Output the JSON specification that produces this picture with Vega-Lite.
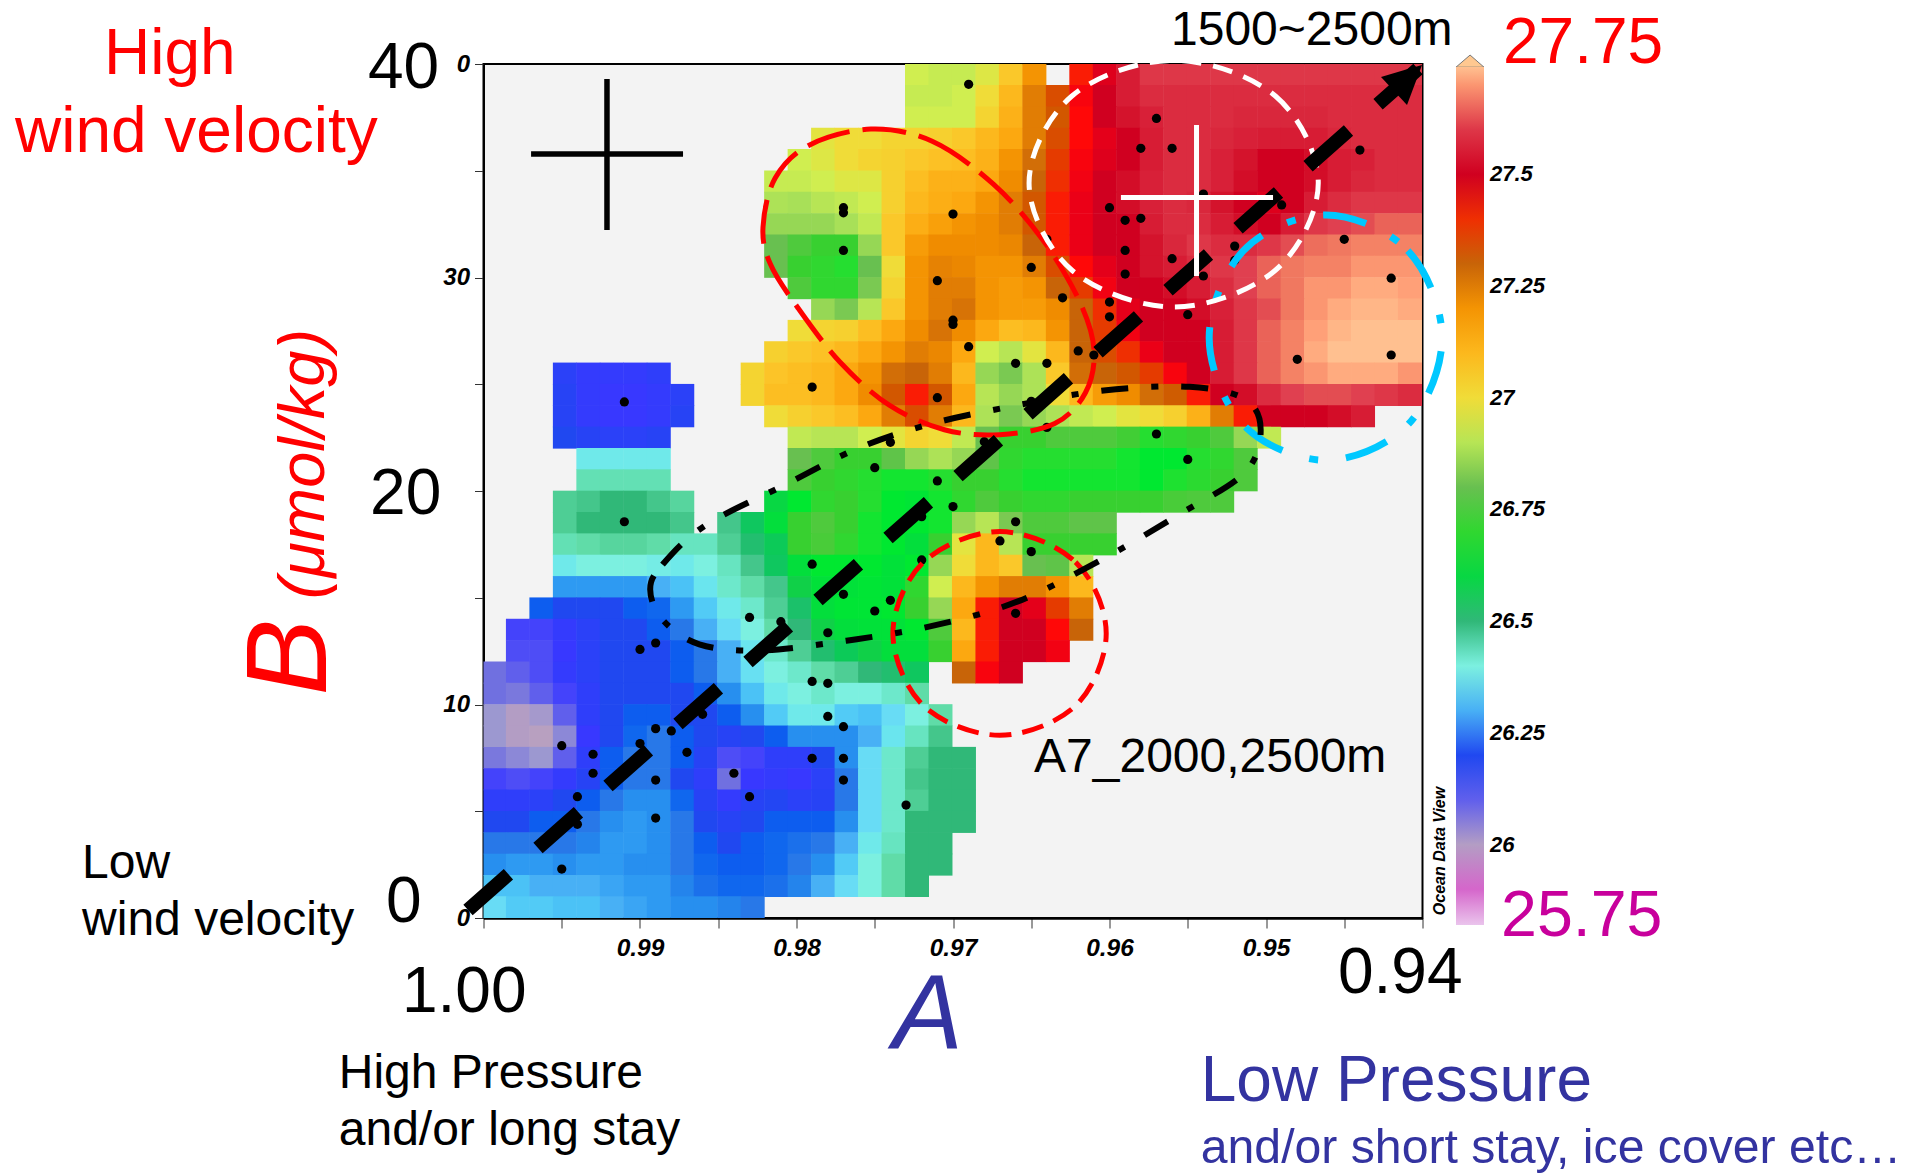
{"$schema":"https://vega.github.io/schema/vega-lite/v6.json","autosize":"none","width":939,"height":854,"padding":{"left":483.5,"top":64,"right":500.5,"bottom":255},"background":"white","view":{"fill":"#f3f3f3","stroke":"black","strokeWidth":2},
"encoding":{"x":{"field":"a","type":"quantitative","title":null,"scale":{"domain":[1,0.94],"nice":false,"zero":false},"axis":{"values":[1,0.995,0.99,0.985,0.98,0.975,0.97,0.965,0.96,0.955,0.95,0.945,0.94],"labelExpr":"(abs(datum.value*100-round(datum.value*100))<0.01 && datum.value<0.999 && datum.value>0.941)?format(datum.value,'.2f'):''","labelFont":"Liberation Sans","labelFontWeight":"bold","labelFontStyle":"italic","labelFontSize":24.5,"labelColor":"black","labelPadding":8,"labelOverlap":false,"labelFlush":false,"tickColor":"#333","tickSize":10,"domainColor":"black","domainWidth":2.5,"grid":false}},
"y":{"field":"b","type":"quantitative","title":null,"scale":{"domain":[0,40],"nice":false,"zero":false},"axis":{"values":[0,5,10,15,20,25,30,35,40],"labelExpr":"datum.value==40?'0':(datum.value==10||datum.value==30||datum.value==0)?''+datum.value:''","labelFont":"Liberation Sans","labelFontWeight":"bold","labelFontStyle":"italic","labelFontSize":24,"labelColor":"black","labelPadding":5,"labelOverlap":false,"labelFlush":false,"tickColor":"#333","tickSize":9,"domainColor":"black","domainWidth":2,"grid":false}}},
"layer":[
{"data":{"values":[
{"a":0.9723,"b":39.5,"v":26.95},{"a":0.9708,"b":39.5,"v":26.93},{"a":0.9693,"b":39.5,"v":26.93},{"a":0.9678,"b":39.5,"v":26.97},{"a":0.9663,"b":39.5,"v":27.05},{"a":0.9648,"b":39.5,"v":27.2},{"a":0.9618,"b":39.5,"v":27.42},{"a":0.9603,"b":39.5,"v":27.48},{"a":0.9588,"b":39.5,"v":27.55},{"a":0.9573,"b":39.5,"v":27.6},{"a":0.9558,"b":39.5,"v":27.6},{"a":0.9543,"b":39.5,"v":27.6},{"a":0.9528,"b":39.5,"v":27.6},{"a":0.9513,"b":39.5,"v":27.6},{"a":0.9498,"b":39.5,"v":27.6},{"a":0.9483,"b":39.5,"v":27.6},{"a":0.9468,"b":39.5,"v":27.6},{"a":0.9453,"b":39.5,"v":27.6},{"a":0.9438,"b":39.5,"v":27.6},{"a":0.9423,"b":39.5,"v":27.6},{"a":0.9408,"b":39.5,"v":27.6},
{"a":0.9723,"b":38.5,"v":26.93},{"a":0.9708,"b":38.5,"v":26.93},{"a":0.9693,"b":38.5,"v":26.95},{"a":0.9678,"b":38.5,"v":27.0},{"a":0.9663,"b":38.5,"v":27.1},{"a":0.9648,"b":38.5,"v":27.25},{"a":0.9633,"b":38.5,"v":27.35},{"a":0.9618,"b":38.5,"v":27.44},{"a":0.9603,"b":38.5,"v":27.5},{"a":0.9588,"b":38.5,"v":27.55},{"a":0.9573,"b":38.5,"v":27.58},{"a":0.9558,"b":38.5,"v":27.58},{"a":0.9543,"b":38.5,"v":27.58},{"a":0.9528,"b":38.5,"v":27.58},{"a":0.9513,"b":38.5,"v":27.58},{"a":0.9498,"b":38.5,"v":27.58},{"a":0.9483,"b":38.5,"v":27.58},{"a":0.9468,"b":38.5,"v":27.58},{"a":0.9453,"b":38.5,"v":27.58},{"a":0.9438,"b":38.5,"v":27.58},{"a":0.9423,"b":38.5,"v":27.58},{"a":0.9408,"b":38.5,"v":27.58},
{"a":0.9723,"b":37.5,"v":26.95},{"a":0.9708,"b":37.5,"v":26.95},{"a":0.9693,"b":37.5,"v":26.95},{"a":0.9678,"b":37.5,"v":27.02},{"a":0.9663,"b":37.5,"v":27.12},{"a":0.9648,"b":37.5,"v":27.25},{"a":0.9633,"b":37.5,"v":27.33},{"a":0.9618,"b":37.5,"v":27.43},{"a":0.9603,"b":37.5,"v":27.5},{"a":0.9588,"b":37.5,"v":27.53},{"a":0.9573,"b":37.5,"v":27.56},{"a":0.9558,"b":37.5,"v":27.58},{"a":0.9543,"b":37.5,"v":27.58},{"a":0.9528,"b":37.5,"v":27.58},{"a":0.9513,"b":37.5,"v":27.57},{"a":0.9498,"b":37.5,"v":27.57},{"a":0.9483,"b":37.5,"v":27.57},{"a":0.9468,"b":37.5,"v":27.57},{"a":0.9453,"b":37.5,"v":27.58},{"a":0.9438,"b":37.5,"v":27.58},{"a":0.9423,"b":37.5,"v":27.58},{"a":0.9408,"b":37.5,"v":27.58},
{"a":0.9783,"b":36.5,"v":26.98},{"a":0.9768,"b":36.5,"v":27.0},{"a":0.9753,"b":36.5,"v":27.0},{"a":0.9738,"b":36.5,"v":27.02},{"a":0.9723,"b":36.5,"v":27.02},{"a":0.9708,"b":36.5,"v":27.03},{"a":0.9693,"b":36.5,"v":27.05},{"a":0.9678,"b":36.5,"v":27.1},{"a":0.9663,"b":36.5,"v":27.15},{"a":0.9648,"b":36.5,"v":27.25},{"a":0.9633,"b":36.5,"v":27.35},{"a":0.9618,"b":36.5,"v":27.43},{"a":0.9603,"b":36.5,"v":27.47},{"a":0.9588,"b":36.5,"v":27.5},{"a":0.9573,"b":36.5,"v":27.55},{"a":0.9558,"b":36.5,"v":27.58},{"a":0.9543,"b":36.5,"v":27.58},{"a":0.9528,"b":36.5,"v":27.57},{"a":0.9513,"b":36.5,"v":27.56},{"a":0.9498,"b":36.5,"v":27.55},{"a":0.9483,"b":36.5,"v":27.55},{"a":0.9468,"b":36.5,"v":27.55},{"a":0.9453,"b":36.5,"v":27.57},{"a":0.9438,"b":36.5,"v":27.58},{"a":0.9423,"b":36.5,"v":27.58},{"a":0.9408,"b":36.5,"v":27.58},
{"a":0.9798,"b":35.5,"v":26.95},{"a":0.9783,"b":35.5,"v":26.97},{"a":0.9768,"b":35.5,"v":27.0},{"a":0.9753,"b":35.5,"v":27.02},{"a":0.9738,"b":35.5,"v":27.03},{"a":0.9723,"b":35.5,"v":27.05},{"a":0.9708,"b":35.5,"v":27.07},{"a":0.9693,"b":35.5,"v":27.08},{"a":0.9678,"b":35.5,"v":27.12},{"a":0.9663,"b":35.5,"v":27.2},{"a":0.9648,"b":35.5,"v":27.28},{"a":0.9633,"b":35.5,"v":27.38},{"a":0.9618,"b":35.5,"v":27.44},{"a":0.9603,"b":35.5,"v":27.48},{"a":0.9588,"b":35.5,"v":27.5},{"a":0.9573,"b":35.5,"v":27.55},{"a":0.9558,"b":35.5,"v":27.58},{"a":0.9543,"b":35.5,"v":27.58},{"a":0.9528,"b":35.5,"v":27.56},{"a":0.9513,"b":35.5,"v":27.53},{"a":0.9498,"b":35.5,"v":27.5},{"a":0.9483,"b":35.5,"v":27.5},{"a":0.9468,"b":35.5,"v":27.52},{"a":0.9453,"b":35.5,"v":27.55},{"a":0.9438,"b":35.5,"v":27.56},{"a":0.9423,"b":35.5,"v":27.58},{"a":0.9408,"b":35.5,"v":27.58},
{"a":0.9813,"b":34.5,"v":26.93},{"a":0.9798,"b":34.5,"v":26.93},{"a":0.9783,"b":34.5,"v":26.95},{"a":0.9768,"b":34.5,"v":26.97},{"a":0.9753,"b":34.5,"v":26.97},{"a":0.9738,"b":34.5,"v":27.03},{"a":0.9723,"b":34.5,"v":27.08},{"a":0.9708,"b":34.5,"v":27.12},{"a":0.9693,"b":34.5,"v":27.12},{"a":0.9678,"b":34.5,"v":27.15},{"a":0.9663,"b":34.5,"v":27.22},{"a":0.9648,"b":34.5,"v":27.3},{"a":0.9633,"b":34.5,"v":27.4},{"a":0.9618,"b":34.5,"v":27.45},{"a":0.9603,"b":34.5,"v":27.5},{"a":0.9588,"b":34.5,"v":27.52},{"a":0.9573,"b":34.5,"v":27.56},{"a":0.9558,"b":34.5,"v":27.58},{"a":0.9543,"b":34.5,"v":27.58},{"a":0.9528,"b":34.5,"v":27.56},{"a":0.9513,"b":34.5,"v":27.52},{"a":0.9498,"b":34.5,"v":27.5},{"a":0.9483,"b":34.5,"v":27.5},{"a":0.9468,"b":34.5,"v":27.52},{"a":0.9453,"b":34.5,"v":27.55},{"a":0.9438,"b":34.5,"v":27.57},{"a":0.9423,"b":34.5,"v":27.58},{"a":0.9408,"b":34.5,"v":27.58},
{"a":0.9813,"b":33.5,"v":26.88},{"a":0.9798,"b":33.5,"v":26.87},{"a":0.9783,"b":33.5,"v":26.9},{"a":0.9768,"b":33.5,"v":26.92},{"a":0.9753,"b":33.5,"v":26.95},{"a":0.9738,"b":33.5,"v":27.03},{"a":0.9723,"b":33.5,"v":27.1},{"a":0.9708,"b":33.5,"v":27.13},{"a":0.9693,"b":33.5,"v":27.15},{"a":0.9678,"b":33.5,"v":27.2},{"a":0.9663,"b":33.5,"v":27.25},{"a":0.9648,"b":33.5,"v":27.33},{"a":0.9633,"b":33.5,"v":27.42},{"a":0.9618,"b":33.5,"v":27.46},{"a":0.9603,"b":33.5,"v":27.5},{"a":0.9588,"b":33.5,"v":27.52},{"a":0.9573,"b":33.5,"v":27.56},{"a":0.9558,"b":33.5,"v":27.58},{"a":0.9543,"b":33.5,"v":27.57},{"a":0.9528,"b":33.5,"v":27.53},{"a":0.9513,"b":33.5,"v":27.5},{"a":0.9498,"b":33.5,"v":27.48},{"a":0.9483,"b":33.5,"v":27.5},{"a":0.9468,"b":33.5,"v":27.55},{"a":0.9453,"b":33.5,"v":27.58},{"a":0.9438,"b":33.5,"v":27.6},{"a":0.9423,"b":33.5,"v":27.6},{"a":0.9408,"b":33.5,"v":27.6},
{"a":0.9813,"b":32.5,"v":26.85},{"a":0.9798,"b":32.5,"v":26.85},{"a":0.9783,"b":32.5,"v":26.85},{"a":0.9768,"b":32.5,"v":26.87},{"a":0.9753,"b":32.5,"v":26.92},{"a":0.9738,"b":32.5,"v":27.05},{"a":0.9723,"b":32.5,"v":27.13},{"a":0.9708,"b":32.5,"v":27.17},{"a":0.9693,"b":32.5,"v":27.2},{"a":0.9678,"b":32.5,"v":27.22},{"a":0.9663,"b":32.5,"v":27.25},{"a":0.9648,"b":32.5,"v":27.33},{"a":0.9633,"b":32.5,"v":27.42},{"a":0.9618,"b":32.5,"v":27.46},{"a":0.9603,"b":32.5,"v":27.5},{"a":0.9588,"b":32.5,"v":27.5},{"a":0.9573,"b":32.5,"v":27.55},{"a":0.9558,"b":32.5,"v":27.58},{"a":0.9543,"b":32.5,"v":27.58},{"a":0.9528,"b":32.5,"v":27.55},{"a":0.9513,"b":32.5,"v":27.52},{"a":0.9498,"b":32.5,"v":27.5},{"a":0.9483,"b":32.5,"v":27.55},{"a":0.9468,"b":32.5,"v":27.6},{"a":0.9453,"b":32.5,"v":27.62},{"a":0.9438,"b":32.5,"v":27.63},{"a":0.9423,"b":32.5,"v":27.65},{"a":0.9408,"b":32.5,"v":27.65},
{"a":0.9813,"b":31.5,"v":26.8},{"a":0.9798,"b":31.5,"v":26.75},{"a":0.9783,"b":31.5,"v":26.72},{"a":0.9768,"b":31.5,"v":26.72},{"a":0.9753,"b":31.5,"v":26.85},{"a":0.9738,"b":31.5,"v":27.05},{"a":0.9723,"b":31.5,"v":27.18},{"a":0.9708,"b":31.5,"v":27.22},{"a":0.9693,"b":31.5,"v":27.22},{"a":0.9678,"b":31.5,"v":27.22},{"a":0.9663,"b":31.5,"v":27.23},{"a":0.9648,"b":31.5,"v":27.3},{"a":0.9633,"b":31.5,"v":27.42},{"a":0.9618,"b":31.5,"v":27.46},{"a":0.9603,"b":31.5,"v":27.5},{"a":0.9588,"b":31.5,"v":27.5},{"a":0.9573,"b":31.5,"v":27.53},{"a":0.9558,"b":31.5,"v":27.57},{"a":0.9543,"b":31.5,"v":27.6},{"a":0.9528,"b":31.5,"v":27.58},{"a":0.9513,"b":31.5,"v":27.58},{"a":0.9498,"b":31.5,"v":27.6},{"a":0.9483,"b":31.5,"v":27.63},{"a":0.9468,"b":31.5,"v":27.66},{"a":0.9453,"b":31.5,"v":27.67},{"a":0.9438,"b":31.5,"v":27.68},{"a":0.9423,"b":31.5,"v":27.68},{"a":0.9408,"b":31.5,"v":27.68},
{"a":0.9813,"b":30.5,"v":26.8},{"a":0.9798,"b":30.5,"v":26.72},{"a":0.9783,"b":30.5,"v":26.7},{"a":0.9768,"b":30.5,"v":26.68},{"a":0.9753,"b":30.5,"v":26.8},{"a":0.9738,"b":30.5,"v":27.0},{"a":0.9723,"b":30.5,"v":27.2},{"a":0.9708,"b":30.5,"v":27.24},{"a":0.9693,"b":30.5,"v":27.23},{"a":0.9678,"b":30.5,"v":27.2},{"a":0.9663,"b":30.5,"v":27.2},{"a":0.9648,"b":30.5,"v":27.25},{"a":0.9633,"b":30.5,"v":27.35},{"a":0.9618,"b":30.5,"v":27.43},{"a":0.9603,"b":30.5,"v":27.47},{"a":0.9588,"b":30.5,"v":27.5},{"a":0.9573,"b":30.5,"v":27.53},{"a":0.9558,"b":30.5,"v":27.55},{"a":0.9543,"b":30.5,"v":27.58},{"a":0.9528,"b":30.5,"v":27.6},{"a":0.9513,"b":30.5,"v":27.62},{"a":0.9498,"b":30.5,"v":27.65},{"a":0.9483,"b":30.5,"v":27.67},{"a":0.9468,"b":30.5,"v":27.68},{"a":0.9453,"b":30.5,"v":27.68},{"a":0.9438,"b":30.5,"v":27.7},{"a":0.9423,"b":30.5,"v":27.7},{"a":0.9408,"b":30.5,"v":27.7},
{"a":0.9798,"b":29.5,"v":26.75},{"a":0.9783,"b":29.5,"v":26.7},{"a":0.9768,"b":29.5,"v":26.7},{"a":0.9753,"b":29.5,"v":26.82},{"a":0.9738,"b":29.5,"v":27.02},{"a":0.9723,"b":29.5,"v":27.2},{"a":0.9708,"b":29.5,"v":27.25},{"a":0.9693,"b":29.5,"v":27.25},{"a":0.9678,"b":29.5,"v":27.2},{"a":0.9663,"b":29.5,"v":27.18},{"a":0.9648,"b":29.5,"v":27.2},{"a":0.9633,"b":29.5,"v":27.3},{"a":0.9618,"b":29.5,"v":27.38},{"a":0.9603,"b":29.5,"v":27.45},{"a":0.9588,"b":29.5,"v":27.5},{"a":0.9573,"b":29.5,"v":27.5},{"a":0.9558,"b":29.5,"v":27.52},{"a":0.9543,"b":29.5,"v":27.55},{"a":0.9528,"b":29.5,"v":27.58},{"a":0.9513,"b":29.5,"v":27.62},{"a":0.9498,"b":29.5,"v":27.65},{"a":0.9483,"b":29.5,"v":27.67},{"a":0.9468,"b":29.5,"v":27.7},{"a":0.9453,"b":29.5,"v":27.7},{"a":0.9438,"b":29.5,"v":27.72},{"a":0.9423,"b":29.5,"v":27.72},{"a":0.9408,"b":29.5,"v":27.71},
{"a":0.9783,"b":28.5,"v":26.85},{"a":0.9768,"b":28.5,"v":26.82},{"a":0.9753,"b":28.5,"v":26.9},{"a":0.9738,"b":28.5,"v":27.05},{"a":0.9723,"b":28.5,"v":27.2},{"a":0.9708,"b":28.5,"v":27.25},{"a":0.9693,"b":28.5,"v":27.27},{"a":0.9678,"b":28.5,"v":27.2},{"a":0.9663,"b":28.5,"v":27.18},{"a":0.9648,"b":28.5,"v":27.18},{"a":0.9633,"b":28.5,"v":27.22},{"a":0.9618,"b":28.5,"v":27.3},{"a":0.9603,"b":28.5,"v":27.4},{"a":0.9588,"b":28.5,"v":27.47},{"a":0.9573,"b":28.5,"v":27.5},{"a":0.9558,"b":28.5,"v":27.5},{"a":0.9543,"b":28.5,"v":27.52},{"a":0.9528,"b":28.5,"v":27.56},{"a":0.9513,"b":28.5,"v":27.6},{"a":0.9498,"b":28.5,"v":27.63},{"a":0.9483,"b":28.5,"v":27.67},{"a":0.9468,"b":28.5,"v":27.7},{"a":0.9453,"b":28.5,"v":27.72},{"a":0.9438,"b":28.5,"v":27.73},{"a":0.9423,"b":28.5,"v":27.73},{"a":0.9408,"b":28.5,"v":27.72},
{"a":0.9798,"b":27.5,"v":27.0},{"a":0.9783,"b":27.5,"v":27.02},{"a":0.9768,"b":27.5,"v":27.03},{"a":0.9753,"b":27.5,"v":27.08},{"a":0.9738,"b":27.5,"v":27.15},{"a":0.9723,"b":27.5,"v":27.22},{"a":0.9708,"b":27.5,"v":27.27},{"a":0.9693,"b":27.5,"v":27.22},{"a":0.9678,"b":27.5,"v":27.15},{"a":0.9663,"b":27.5,"v":27.08},{"a":0.9648,"b":27.5,"v":27.1},{"a":0.9633,"b":27.5,"v":27.2},{"a":0.9618,"b":27.5,"v":27.3},{"a":0.9603,"b":27.5,"v":27.38},{"a":0.9588,"b":27.5,"v":27.45},{"a":0.9573,"b":27.5,"v":27.5},{"a":0.9558,"b":27.5,"v":27.5},{"a":0.9543,"b":27.5,"v":27.5},{"a":0.9528,"b":27.5,"v":27.55},{"a":0.9513,"b":27.5,"v":27.6},{"a":0.9498,"b":27.5,"v":27.65},{"a":0.9483,"b":27.5,"v":27.68},{"a":0.9468,"b":27.5,"v":27.71},{"a":0.9453,"b":27.5,"v":27.73},{"a":0.9438,"b":27.5,"v":27.74},{"a":0.9423,"b":27.5,"v":27.74},{"a":0.9408,"b":27.5,"v":27.74},
{"a":0.9813,"b":26.5,"v":27.03},{"a":0.9798,"b":26.5,"v":27.05},{"a":0.9783,"b":26.5,"v":27.07},{"a":0.9768,"b":26.5,"v":27.1},{"a":0.9753,"b":26.5,"v":27.15},{"a":0.9738,"b":26.5,"v":27.2},{"a":0.9723,"b":26.5,"v":27.25},{"a":0.9708,"b":26.5,"v":27.23},{"a":0.9693,"b":26.5,"v":27.15},{"a":0.9678,"b":26.5,"v":26.95},{"a":0.9663,"b":26.5,"v":26.9},{"a":0.9648,"b":26.5,"v":26.98},{"a":0.9633,"b":26.5,"v":27.1},{"a":0.9618,"b":26.5,"v":27.3},{"a":0.9603,"b":26.5,"v":27.35},{"a":0.9588,"b":26.5,"v":27.4},{"a":0.9573,"b":26.5,"v":27.46},{"a":0.9558,"b":26.5,"v":27.5},{"a":0.9543,"b":26.5,"v":27.5},{"a":0.9528,"b":26.5,"v":27.55},{"a":0.9513,"b":26.5,"v":27.6},{"a":0.9498,"b":26.5,"v":27.65},{"a":0.9483,"b":26.5,"v":27.68},{"a":0.9468,"b":26.5,"v":27.72},{"a":0.9453,"b":26.5,"v":27.74},{"a":0.9438,"b":26.5,"v":27.74},{"a":0.9423,"b":26.5,"v":27.74},{"a":0.9408,"b":26.5,"v":27.74},
{"a":0.9828,"b":25.5,"v":27.02},{"a":0.9813,"b":25.5,"v":27.06},{"a":0.9798,"b":25.5,"v":27.08},{"a":0.9783,"b":25.5,"v":27.1},{"a":0.9768,"b":25.5,"v":27.15},{"a":0.9753,"b":25.5,"v":27.2},{"a":0.9738,"b":25.5,"v":27.28},{"a":0.9723,"b":25.5,"v":27.3},{"a":0.9708,"b":25.5,"v":27.25},{"a":0.9693,"b":25.5,"v":27.1},{"a":0.9678,"b":25.5,"v":26.85},{"a":0.9663,"b":25.5,"v":26.82},{"a":0.9648,"b":25.5,"v":26.88},{"a":0.9633,"b":25.5,"v":27.05},{"a":0.9618,"b":25.5,"v":27.28},{"a":0.9603,"b":25.5,"v":27.3},{"a":0.9588,"b":25.5,"v":27.33},{"a":0.9573,"b":25.5,"v":27.38},{"a":0.9558,"b":25.5,"v":27.44},{"a":0.9543,"b":25.5,"v":27.5},{"a":0.9528,"b":25.5,"v":27.55},{"a":0.9513,"b":25.5,"v":27.6},{"a":0.9498,"b":25.5,"v":27.65},{"a":0.9483,"b":25.5,"v":27.68},{"a":0.9468,"b":25.5,"v":27.7},{"a":0.9453,"b":25.5,"v":27.72},{"a":0.9438,"b":25.5,"v":27.72},{"a":0.9423,"b":25.5,"v":27.72},{"a":0.9408,"b":25.5,"v":27.7},{"a":0.9948,"b":25.5,"v":26.17},{"a":0.9933,"b":25.5,"v":26.15},{"a":0.9918,"b":25.5,"v":26.15},{"a":0.9903,"b":25.5,"v":26.15},{"a":0.9888,"b":25.5,"v":26.16},
{"a":0.9948,"b":24.5,"v":26.18},{"a":0.9933,"b":24.5,"v":26.15},{"a":0.9918,"b":24.5,"v":26.14},{"a":0.9903,"b":24.5,"v":26.14},{"a":0.9888,"b":24.5,"v":26.15},{"a":0.9873,"b":24.5,"v":26.17},{"a":0.9828,"b":24.5,"v":27.02},{"a":0.9813,"b":24.5,"v":27.08},{"a":0.9798,"b":24.5,"v":27.08},{"a":0.9783,"b":24.5,"v":27.1},{"a":0.9768,"b":24.5,"v":27.15},{"a":0.9753,"b":24.5,"v":27.22},{"a":0.9738,"b":24.5,"v":27.33},{"a":0.9723,"b":24.5,"v":27.42},{"a":0.9708,"b":24.5,"v":27.33},{"a":0.9693,"b":24.5,"v":27.15},{"a":0.9678,"b":24.5,"v":26.9},{"a":0.9663,"b":24.5,"v":26.85},{"a":0.9648,"b":24.5,"v":26.88},{"a":0.9633,"b":24.5,"v":27.0},{"a":0.9618,"b":24.5,"v":27.1},{"a":0.9603,"b":24.5,"v":27.18},{"a":0.9588,"b":24.5,"v":27.22},{"a":0.9573,"b":24.5,"v":27.28},{"a":0.9558,"b":24.5,"v":27.32},{"a":0.9543,"b":24.5,"v":27.42},{"a":0.9528,"b":24.5,"v":27.5},{"a":0.9513,"b":24.5,"v":27.52},{"a":0.9498,"b":24.5,"v":27.58},{"a":0.9483,"b":24.5,"v":27.62},{"a":0.9468,"b":24.5,"v":27.63},{"a":0.9453,"b":24.5,"v":27.63},{"a":0.9438,"b":24.5,"v":27.62},{"a":0.9423,"b":24.5,"v":27.6},{"a":0.9408,"b":24.5,"v":27.58},
{"a":0.9948,"b":23.5,"v":26.18},{"a":0.9933,"b":23.5,"v":26.15},{"a":0.9918,"b":23.5,"v":26.14},{"a":0.9903,"b":23.5,"v":26.14},{"a":0.9888,"b":23.5,"v":26.15},{"a":0.9873,"b":23.5,"v":26.18},{"a":0.9813,"b":23.5,"v":27.0},{"a":0.9798,"b":23.5,"v":27.03},{"a":0.9783,"b":23.5,"v":27.05},{"a":0.9768,"b":23.5,"v":27.08},{"a":0.9753,"b":23.5,"v":27.15},{"a":0.9738,"b":23.5,"v":27.25},{"a":0.9723,"b":23.5,"v":27.35},{"a":0.9708,"b":23.5,"v":27.25},{"a":0.9693,"b":23.5,"v":27.1},{"a":0.9678,"b":23.5,"v":26.88},{"a":0.9663,"b":23.5,"v":26.82},{"a":0.9648,"b":23.5,"v":26.85},{"a":0.9633,"b":23.5,"v":26.88},{"a":0.9618,"b":23.5,"v":26.92},{"a":0.9603,"b":23.5,"v":26.95},{"a":0.9588,"b":23.5,"v":26.98},{"a":0.9573,"b":23.5,"v":27.0},{"a":0.9558,"b":23.5,"v":27.03},{"a":0.9543,"b":23.5,"v":27.12},{"a":0.9528,"b":23.5,"v":27.25},{"a":0.9513,"b":23.5,"v":27.42},{"a":0.9498,"b":23.5,"v":27.5},{"a":0.9483,"b":23.5,"v":27.5},{"a":0.9468,"b":23.5,"v":27.5},{"a":0.9453,"b":23.5,"v":27.52},{"a":0.9438,"b":23.5,"v":27.55},
{"a":0.9948,"b":22.5,"v":26.2},{"a":0.9933,"b":22.5,"v":26.18},{"a":0.9918,"b":22.5,"v":26.17},{"a":0.9903,"b":22.5,"v":26.17},{"a":0.9888,"b":22.5,"v":26.18},{"a":0.9798,"b":22.5,"v":26.92},{"a":0.9783,"b":22.5,"v":26.9},{"a":0.9768,"b":22.5,"v":26.9},{"a":0.9753,"b":22.5,"v":26.95},{"a":0.9738,"b":22.5,"v":26.98},{"a":0.9723,"b":22.5,"v":27.02},{"a":0.9708,"b":22.5,"v":27.0},{"a":0.9693,"b":22.5,"v":26.92},{"a":0.9678,"b":22.5,"v":26.8},{"a":0.9663,"b":22.5,"v":26.72},{"a":0.9648,"b":22.5,"v":26.72},{"a":0.9633,"b":22.5,"v":26.75},{"a":0.9618,"b":22.5,"v":26.75},{"a":0.9603,"b":22.5,"v":26.75},{"a":0.9588,"b":22.5,"v":26.73},{"a":0.9573,"b":22.5,"v":26.68},{"a":0.9558,"b":22.5,"v":26.7},{"a":0.9543,"b":22.5,"v":26.72},{"a":0.9528,"b":22.5,"v":26.75},{"a":0.9513,"b":22.5,"v":26.85},{"a":0.9498,"b":22.5,"v":26.92},
{"a":0.9933,"b":21.5,"v":26.38},{"a":0.9918,"b":21.5,"v":26.38},{"a":0.9903,"b":21.5,"v":26.38},{"a":0.9888,"b":21.5,"v":26.38},{"a":0.9798,"b":21.5,"v":26.8},{"a":0.9783,"b":21.5,"v":26.75},{"a":0.9768,"b":21.5,"v":26.72},{"a":0.9753,"b":21.5,"v":26.72},{"a":0.9738,"b":21.5,"v":26.78},{"a":0.9723,"b":21.5,"v":26.85},{"a":0.9708,"b":21.5,"v":26.88},{"a":0.9693,"b":21.5,"v":26.85},{"a":0.9678,"b":21.5,"v":26.78},{"a":0.9663,"b":21.5,"v":26.7},{"a":0.9648,"b":21.5,"v":26.68},{"a":0.9633,"b":21.5,"v":26.68},{"a":0.9618,"b":21.5,"v":26.68},{"a":0.9603,"b":21.5,"v":26.68},{"a":0.9588,"b":21.5,"v":26.66},{"a":0.9573,"b":21.5,"v":26.65},{"a":0.9558,"b":21.5,"v":26.65},{"a":0.9543,"b":21.5,"v":26.68},{"a":0.9528,"b":21.5,"v":26.7},{"a":0.9513,"b":21.5,"v":26.75},
{"a":0.9933,"b":20.5,"v":26.44},{"a":0.9918,"b":20.5,"v":26.44},{"a":0.9903,"b":20.5,"v":26.44},{"a":0.9888,"b":20.5,"v":26.44},{"a":0.9798,"b":20.5,"v":26.75},{"a":0.9783,"b":20.5,"v":26.72},{"a":0.9768,"b":20.5,"v":26.7},{"a":0.9753,"b":20.5,"v":26.68},{"a":0.9738,"b":20.5,"v":26.66},{"a":0.9723,"b":20.5,"v":26.66},{"a":0.9708,"b":20.5,"v":26.68},{"a":0.9693,"b":20.5,"v":26.72},{"a":0.9678,"b":20.5,"v":26.72},{"a":0.9663,"b":20.5,"v":26.68},{"a":0.9648,"b":20.5,"v":26.66},{"a":0.9633,"b":20.5,"v":26.66},{"a":0.9618,"b":20.5,"v":26.66},{"a":0.9603,"b":20.5,"v":26.66},{"a":0.9588,"b":20.5,"v":26.66},{"a":0.9573,"b":20.5,"v":26.65},{"a":0.9558,"b":20.5,"v":26.67},{"a":0.9543,"b":20.5,"v":26.69},{"a":0.9528,"b":20.5,"v":26.72},{"a":0.9513,"b":20.5,"v":26.75},
{"a":0.9948,"b":19.5,"v":26.47},{"a":0.9933,"b":19.5,"v":26.48},{"a":0.9918,"b":19.5,"v":26.5},{"a":0.9903,"b":19.5,"v":26.5},{"a":0.9888,"b":19.5,"v":26.48},{"a":0.9873,"b":19.5,"v":26.46},{"a":0.9813,"b":19.5,"v":26.6},{"a":0.9798,"b":19.5,"v":26.65},{"a":0.9783,"b":19.5,"v":26.7},{"a":0.9768,"b":19.5,"v":26.72},{"a":0.9753,"b":19.5,"v":26.68},{"a":0.9738,"b":19.5,"v":26.65},{"a":0.9723,"b":19.5,"v":26.64},{"a":0.9708,"b":19.5,"v":26.66},{"a":0.9693,"b":19.5,"v":26.7},{"a":0.9678,"b":19.5,"v":26.75},{"a":0.9663,"b":19.5,"v":26.72},{"a":0.9648,"b":19.5,"v":26.7},{"a":0.9633,"b":19.5,"v":26.7},{"a":0.9618,"b":19.5,"v":26.72},{"a":0.9603,"b":19.5,"v":26.72},{"a":0.9588,"b":19.5,"v":26.72},{"a":0.9573,"b":19.5,"v":26.72},{"a":0.9558,"b":19.5,"v":26.74},{"a":0.9543,"b":19.5,"v":26.75},{"a":0.9528,"b":19.5,"v":26.75},
{"a":0.9948,"b":18.5,"v":26.47},{"a":0.9933,"b":18.5,"v":26.5},{"a":0.9918,"b":18.5,"v":26.5},{"a":0.9903,"b":18.5,"v":26.5},{"a":0.9888,"b":18.5,"v":26.5},{"a":0.9873,"b":18.5,"v":26.48},{"a":0.9843,"b":18.5,"v":26.48},{"a":0.9828,"b":18.5,"v":26.55},{"a":0.9813,"b":18.5,"v":26.62},{"a":0.9798,"b":18.5,"v":26.72},{"a":0.9783,"b":18.5,"v":26.75},{"a":0.9768,"b":18.5,"v":26.72},{"a":0.9753,"b":18.5,"v":26.66},{"a":0.9738,"b":18.5,"v":26.65},{"a":0.9723,"b":18.5,"v":26.65},{"a":0.9708,"b":18.5,"v":26.66},{"a":0.9693,"b":18.5,"v":26.85},{"a":0.9678,"b":18.5,"v":26.9},{"a":0.9663,"b":18.5,"v":26.82},{"a":0.9648,"b":18.5,"v":26.75},{"a":0.9633,"b":18.5,"v":26.75},{"a":0.9618,"b":18.5,"v":26.78},{"a":0.9603,"b":18.5,"v":26.78},
{"a":0.9948,"b":17.5,"v":26.44},{"a":0.9933,"b":17.5,"v":26.45},{"a":0.9918,"b":17.5,"v":26.46},{"a":0.9903,"b":17.5,"v":26.46},{"a":0.9888,"b":17.5,"v":26.45},{"a":0.9873,"b":17.5,"v":26.43},{"a":0.9858,"b":17.5,"v":26.43},{"a":0.9843,"b":17.5,"v":26.47},{"a":0.9828,"b":17.5,"v":26.52},{"a":0.9813,"b":17.5,"v":26.56},{"a":0.9798,"b":17.5,"v":26.72},{"a":0.9783,"b":17.5,"v":26.74},{"a":0.9768,"b":17.5,"v":26.7},{"a":0.9753,"b":17.5,"v":26.66},{"a":0.9738,"b":17.5,"v":26.65},{"a":0.9723,"b":17.5,"v":26.62},{"a":0.9708,"b":17.5,"v":26.72},{"a":0.9693,"b":17.5,"v":26.98},{"a":0.9678,"b":17.5,"v":27.1},{"a":0.9663,"b":17.5,"v":26.9},{"a":0.9648,"b":17.5,"v":26.72},{"a":0.9633,"b":17.5,"v":26.72},{"a":0.9618,"b":17.5,"v":26.72},{"a":0.9603,"b":17.5,"v":26.72},
{"a":0.9948,"b":16.5,"v":26.38},{"a":0.9933,"b":16.5,"v":26.4},{"a":0.9918,"b":16.5,"v":26.4},{"a":0.9903,"b":16.5,"v":26.4},{"a":0.9888,"b":16.5,"v":26.39},{"a":0.9873,"b":16.5,"v":26.38},{"a":0.9858,"b":16.5,"v":26.4},{"a":0.9843,"b":16.5,"v":26.43},{"a":0.9828,"b":16.5,"v":26.48},{"a":0.9813,"b":16.5,"v":26.55},{"a":0.9798,"b":16.5,"v":26.62},{"a":0.9783,"b":16.5,"v":26.65},{"a":0.9768,"b":16.5,"v":26.65},{"a":0.9753,"b":16.5,"v":26.65},{"a":0.9738,"b":16.5,"v":26.63},{"a":0.9723,"b":16.5,"v":26.65},{"a":0.9708,"b":16.5,"v":26.85},{"a":0.9693,"b":16.5,"v":27.0},{"a":0.9678,"b":16.5,"v":27.1},{"a":0.9663,"b":16.5,"v":27.05},{"a":0.9648,"b":16.5,"v":26.8},{"a":0.9633,"b":16.5,"v":26.78},{"a":0.9618,"b":16.5,"v":26.9},
{"a":0.9948,"b":15.5,"v":26.28},{"a":0.9933,"b":15.5,"v":26.28},{"a":0.9918,"b":15.5,"v":26.28},{"a":0.9903,"b":15.5,"v":26.28},{"a":0.9888,"b":15.5,"v":26.3},{"a":0.9873,"b":15.5,"v":26.32},{"a":0.9858,"b":15.5,"v":26.37},{"a":0.9843,"b":15.5,"v":26.42},{"a":0.9828,"b":15.5,"v":26.45},{"a":0.9813,"b":15.5,"v":26.48},{"a":0.9798,"b":15.5,"v":26.58},{"a":0.9783,"b":15.5,"v":26.63},{"a":0.9768,"b":15.5,"v":26.63},{"a":0.9753,"b":15.5,"v":26.64},{"a":0.9738,"b":15.5,"v":26.63},{"a":0.9723,"b":15.5,"v":26.7},{"a":0.9708,"b":15.5,"v":26.95},{"a":0.9693,"b":15.5,"v":27.1},{"a":0.9678,"b":15.5,"v":27.2},{"a":0.9663,"b":15.5,"v":27.25},{"a":0.9648,"b":15.5,"v":27.25},{"a":0.9633,"b":15.5,"v":27.2},{"a":0.9618,"b":15.5,"v":27.1},
{"a":0.9963,"b":14.5,"v":26.22},{"a":0.9948,"b":14.5,"v":26.2},{"a":0.9933,"b":14.5,"v":26.2},{"a":0.9918,"b":14.5,"v":26.2},{"a":0.9903,"b":14.5,"v":26.22},{"a":0.9888,"b":14.5,"v":26.23},{"a":0.9873,"b":14.5,"v":26.28},{"a":0.9858,"b":14.5,"v":26.33},{"a":0.9843,"b":14.5,"v":26.38},{"a":0.9828,"b":14.5,"v":26.42},{"a":0.9813,"b":14.5,"v":26.47},{"a":0.9798,"b":14.5,"v":26.53},{"a":0.9783,"b":14.5,"v":26.62},{"a":0.9768,"b":14.5,"v":26.64},{"a":0.9753,"b":14.5,"v":26.64},{"a":0.9738,"b":14.5,"v":26.65},{"a":0.9723,"b":14.5,"v":26.72},{"a":0.9708,"b":14.5,"v":26.85},{"a":0.9693,"b":14.5,"v":27.15},{"a":0.9678,"b":14.5,"v":27.42},{"a":0.9663,"b":14.5,"v":27.5},{"a":0.9648,"b":14.5,"v":27.47},{"a":0.9633,"b":14.5,"v":27.38},{"a":0.9618,"b":14.5,"v":27.25},
{"a":0.9963,"b":13.5,"v":26.13},{"a":0.9978,"b":13.5,"v":26.13},{"a":0.9948,"b":13.5,"v":26.15},{"a":0.9933,"b":13.5,"v":26.17},{"a":0.9918,"b":13.5,"v":26.2},{"a":0.9903,"b":13.5,"v":26.2},{"a":0.9888,"b":13.5,"v":26.22},{"a":0.9873,"b":13.5,"v":26.25},{"a":0.9858,"b":13.5,"v":26.3},{"a":0.9843,"b":13.5,"v":26.35},{"a":0.9828,"b":13.5,"v":26.4},{"a":0.9813,"b":13.5,"v":26.45},{"a":0.9798,"b":13.5,"v":26.5},{"a":0.9783,"b":13.5,"v":26.58},{"a":0.9768,"b":13.5,"v":26.62},{"a":0.9753,"b":13.5,"v":26.63},{"a":0.9738,"b":13.5,"v":26.63},{"a":0.9723,"b":13.5,"v":26.65},{"a":0.9708,"b":13.5,"v":26.75},{"a":0.9693,"b":13.5,"v":27.1},{"a":0.9678,"b":13.5,"v":27.42},{"a":0.9663,"b":13.5,"v":27.5},{"a":0.9648,"b":13.5,"v":27.5},{"a":0.9633,"b":13.5,"v":27.43},{"a":0.9618,"b":13.5,"v":27.3},
{"a":0.9978,"b":12.5,"v":26.12},{"a":0.9963,"b":12.5,"v":26.12},{"a":0.9948,"b":12.5,"v":26.14},{"a":0.9933,"b":12.5,"v":26.17},{"a":0.9918,"b":12.5,"v":26.2},{"a":0.9903,"b":12.5,"v":26.2},{"a":0.9888,"b":12.5,"v":26.2},{"a":0.9873,"b":12.5,"v":26.22},{"a":0.9858,"b":12.5,"v":26.25},{"a":0.9843,"b":12.5,"v":26.3},{"a":0.9828,"b":12.5,"v":26.37},{"a":0.9813,"b":12.5,"v":26.42},{"a":0.9798,"b":12.5,"v":26.47},{"a":0.9783,"b":12.5,"v":26.52},{"a":0.9768,"b":12.5,"v":26.56},{"a":0.9753,"b":12.5,"v":26.58},{"a":0.9738,"b":12.5,"v":26.62},{"a":0.9723,"b":12.5,"v":26.62},{"a":0.9708,"b":12.5,"v":26.72},{"a":0.9693,"b":12.5,"v":27.15},{"a":0.9678,"b":12.5,"v":27.42},{"a":0.9663,"b":12.5,"v":27.5},{"a":0.9648,"b":12.5,"v":27.5},{"a":0.9633,"b":12.5,"v":27.45},
{"a":0.9993,"b":11.5,"v":26.08},{"a":0.9978,"b":11.5,"v":26.1},{"a":0.9963,"b":11.5,"v":26.12},{"a":0.9948,"b":11.5,"v":26.15},{"a":0.9933,"b":11.5,"v":26.17},{"a":0.9918,"b":11.5,"v":26.2},{"a":0.9903,"b":11.5,"v":26.2},{"a":0.9888,"b":11.5,"v":26.2},{"a":0.9873,"b":11.5,"v":26.22},{"a":0.9858,"b":11.5,"v":26.25},{"a":0.9843,"b":11.5,"v":26.3},{"a":0.9828,"b":11.5,"v":26.36},{"a":0.9813,"b":11.5,"v":26.4},{"a":0.9798,"b":11.5,"v":26.42},{"a":0.9783,"b":11.5,"v":26.45},{"a":0.9768,"b":11.5,"v":26.47},{"a":0.9753,"b":11.5,"v":26.5},{"a":0.9738,"b":11.5,"v":26.52},{"a":0.9723,"b":11.5,"v":26.55},{"a":0.9693,"b":11.5,"v":27.3},{"a":0.9678,"b":11.5,"v":27.44},{"a":0.9663,"b":11.5,"v":27.5},
{"a":0.9993,"b":10.5,"v":26.08},{"a":0.9978,"b":10.5,"v":26.07},{"a":0.9963,"b":10.5,"v":26.1},{"a":0.9948,"b":10.5,"v":26.13},{"a":0.9933,"b":10.5,"v":26.16},{"a":0.9918,"b":10.5,"v":26.2},{"a":0.9903,"b":10.5,"v":26.2},{"a":0.9888,"b":10.5,"v":26.2},{"a":0.9873,"b":10.5,"v":26.2},{"a":0.9858,"b":10.5,"v":26.22},{"a":0.9843,"b":10.5,"v":26.27},{"a":0.9828,"b":10.5,"v":26.32},{"a":0.9813,"b":10.5,"v":26.38},{"a":0.9798,"b":10.5,"v":26.4},{"a":0.9783,"b":10.5,"v":26.42},{"a":0.9768,"b":10.5,"v":26.4},{"a":0.9753,"b":10.5,"v":26.4},{"a":0.9738,"b":10.5,"v":26.42},{"a":0.9723,"b":10.5,"v":26.45},
{"a":0.9993,"b":9.5,"v":26.03},{"a":0.9978,"b":9.5,"v":26.0},{"a":0.9963,"b":9.5,"v":26.02},{"a":0.9948,"b":9.5,"v":26.1},{"a":0.9933,"b":9.5,"v":26.16},{"a":0.9918,"b":9.5,"v":26.2},{"a":0.9903,"b":9.5,"v":26.22},{"a":0.9888,"b":9.5,"v":26.22},{"a":0.9873,"b":9.5,"v":26.2},{"a":0.9858,"b":9.5,"v":26.2},{"a":0.9843,"b":9.5,"v":26.22},{"a":0.9828,"b":9.5,"v":26.27},{"a":0.9813,"b":9.5,"v":26.33},{"a":0.9798,"b":9.5,"v":26.38},{"a":0.9783,"b":9.5,"v":26.38},{"a":0.9768,"b":9.5,"v":26.33},{"a":0.9753,"b":9.5,"v":26.32},{"a":0.9738,"b":9.5,"v":26.35},{"a":0.9723,"b":9.5,"v":26.4},{"a":0.9708,"b":9.5,"v":26.45},
{"a":0.9993,"b":8.5,"v":26.03},{"a":0.9978,"b":8.5,"v":26.0},{"a":0.9963,"b":8.5,"v":25.99},{"a":0.9948,"b":8.5,"v":26.05},{"a":0.9933,"b":8.5,"v":26.14},{"a":0.9918,"b":8.5,"v":26.2},{"a":0.9903,"b":8.5,"v":26.23},{"a":0.9888,"b":8.5,"v":26.25},{"a":0.9873,"b":8.5,"v":26.22},{"a":0.9858,"b":8.5,"v":26.2},{"a":0.9843,"b":8.5,"v":26.18},{"a":0.9828,"b":8.5,"v":26.2},{"a":0.9813,"b":8.5,"v":26.22},{"a":0.9798,"b":8.5,"v":26.27},{"a":0.9783,"b":8.5,"v":26.27},{"a":0.9768,"b":8.5,"v":26.27},{"a":0.9753,"b":8.5,"v":26.3},{"a":0.9738,"b":8.5,"v":26.37},{"a":0.9723,"b":8.5,"v":26.43},{"a":0.9708,"b":8.5,"v":26.48},
{"a":0.9993,"b":7.5,"v":26.07},{"a":0.9978,"b":7.5,"v":26.05},{"a":0.9963,"b":7.5,"v":26.03},{"a":0.9948,"b":7.5,"v":26.1},{"a":0.9933,"b":7.5,"v":26.16},{"a":0.9918,"b":7.5,"v":26.22},{"a":0.9903,"b":7.5,"v":26.25},{"a":0.9888,"b":7.5,"v":26.25},{"a":0.9873,"b":7.5,"v":26.22},{"a":0.9858,"b":7.5,"v":26.18},{"a":0.9843,"b":7.5,"v":26.12},{"a":0.9828,"b":7.5,"v":26.13},{"a":0.9813,"b":7.5,"v":26.16},{"a":0.9798,"b":7.5,"v":26.16},{"a":0.9783,"b":7.5,"v":26.2},{"a":0.9768,"b":7.5,"v":26.27},{"a":0.9753,"b":7.5,"v":26.35},{"a":0.9738,"b":7.5,"v":26.42},{"a":0.9723,"b":7.5,"v":26.47},{"a":0.9708,"b":7.5,"v":26.5},{"a":0.9693,"b":7.5,"v":26.5},
{"a":0.9993,"b":6.5,"v":26.13},{"a":0.9978,"b":6.5,"v":26.12},{"a":0.9963,"b":6.5,"v":26.13},{"a":0.9948,"b":6.5,"v":26.15},{"a":0.9933,"b":6.5,"v":26.18},{"a":0.9918,"b":6.5,"v":26.22},{"a":0.9903,"b":6.5,"v":26.25},{"a":0.9888,"b":6.5,"v":26.25},{"a":0.9873,"b":6.5,"v":26.2},{"a":0.9858,"b":6.5,"v":26.16},{"a":0.9843,"b":6.5,"v":26.08},{"a":0.9828,"b":6.5,"v":26.14},{"a":0.9813,"b":6.5,"v":26.15},{"a":0.9798,"b":6.5,"v":26.14},{"a":0.9783,"b":6.5,"v":26.17},{"a":0.9768,"b":6.5,"v":26.25},{"a":0.9753,"b":6.5,"v":26.35},{"a":0.9738,"b":6.5,"v":26.42},{"a":0.9723,"b":6.5,"v":26.48},{"a":0.9708,"b":6.5,"v":26.5},{"a":0.9693,"b":6.5,"v":26.5},
{"a":0.9993,"b":5.5,"v":26.16},{"a":0.9978,"b":5.5,"v":26.16},{"a":0.9963,"b":5.5,"v":26.17},{"a":0.9948,"b":5.5,"v":26.2},{"a":0.9933,"b":5.5,"v":26.22},{"a":0.9918,"b":5.5,"v":26.25},{"a":0.9903,"b":5.5,"v":26.27},{"a":0.9888,"b":5.5,"v":26.27},{"a":0.9873,"b":5.5,"v":26.23},{"a":0.9858,"b":5.5,"v":26.18},{"a":0.9843,"b":5.5,"v":26.15},{"a":0.9828,"b":5.5,"v":26.18},{"a":0.9813,"b":5.5,"v":26.19},{"a":0.9798,"b":5.5,"v":26.17},{"a":0.9783,"b":5.5,"v":26.18},{"a":0.9768,"b":5.5,"v":26.25},{"a":0.9753,"b":5.5,"v":26.35},{"a":0.9738,"b":5.5,"v":26.42},{"a":0.9723,"b":5.5,"v":26.47},{"a":0.9708,"b":5.5,"v":26.5},{"a":0.9693,"b":5.5,"v":26.5},
{"a":0.9993,"b":4.5,"v":26.2},{"a":0.9978,"b":4.5,"v":26.2},{"a":0.9963,"b":4.5,"v":26.22},{"a":0.9948,"b":4.5,"v":26.22},{"a":0.9933,"b":4.5,"v":26.25},{"a":0.9918,"b":4.5,"v":26.27},{"a":0.9903,"b":4.5,"v":26.28},{"a":0.9888,"b":4.5,"v":26.27},{"a":0.9873,"b":4.5,"v":26.25},{"a":0.9858,"b":4.5,"v":26.2},{"a":0.9843,"b":4.5,"v":26.18},{"a":0.9828,"b":4.5,"v":26.2},{"a":0.9813,"b":4.5,"v":26.22},{"a":0.9798,"b":4.5,"v":26.22},{"a":0.9783,"b":4.5,"v":26.22},{"a":0.9768,"b":4.5,"v":26.27},{"a":0.9753,"b":4.5,"v":26.35},{"a":0.9738,"b":4.5,"v":26.42},{"a":0.9723,"b":4.5,"v":26.5},{"a":0.9708,"b":4.5,"v":26.5},{"a":0.9693,"b":4.5,"v":26.5},
{"a":0.9993,"b":3.5,"v":26.25},{"a":0.9978,"b":3.5,"v":26.25},{"a":0.9963,"b":3.5,"v":26.25},{"a":0.9948,"b":3.5,"v":26.25},{"a":0.9933,"b":3.5,"v":26.26},{"a":0.9918,"b":3.5,"v":26.28},{"a":0.9903,"b":3.5,"v":26.28},{"a":0.9888,"b":3.5,"v":26.27},{"a":0.9873,"b":3.5,"v":26.25},{"a":0.9858,"b":3.5,"v":26.22},{"a":0.9843,"b":3.5,"v":26.2},{"a":0.9828,"b":3.5,"v":26.22},{"a":0.9813,"b":3.5,"v":26.23},{"a":0.9798,"b":3.5,"v":26.24},{"a":0.9783,"b":3.5,"v":26.25},{"a":0.9768,"b":3.5,"v":26.3},{"a":0.9753,"b":3.5,"v":26.38},{"a":0.9738,"b":3.5,"v":26.43},{"a":0.9723,"b":3.5,"v":26.5},{"a":0.9708,"b":3.5,"v":26.5},
{"a":0.9993,"b":2.5,"v":26.27},{"a":0.9978,"b":2.5,"v":26.28},{"a":0.9963,"b":2.5,"v":26.28},{"a":0.9948,"b":2.5,"v":26.27},{"a":0.9933,"b":2.5,"v":26.28},{"a":0.9918,"b":2.5,"v":26.28},{"a":0.9903,"b":2.5,"v":26.27},{"a":0.9888,"b":2.5,"v":26.27},{"a":0.9873,"b":2.5,"v":26.25},{"a":0.9858,"b":2.5,"v":26.23},{"a":0.9843,"b":2.5,"v":26.22},{"a":0.9828,"b":2.5,"v":26.22},{"a":0.9813,"b":2.5,"v":26.23},{"a":0.9798,"b":2.5,"v":26.25},{"a":0.9783,"b":2.5,"v":26.27},{"a":0.9768,"b":2.5,"v":26.33},{"a":0.9753,"b":2.5,"v":26.4},{"a":0.9738,"b":2.5,"v":26.45},{"a":0.9723,"b":2.5,"v":26.5},{"a":0.9708,"b":2.5,"v":26.5},
{"a":0.9993,"b":1.5,"v":26.32},{"a":0.9978,"b":1.5,"v":26.32},{"a":0.9963,"b":1.5,"v":26.3},{"a":0.9948,"b":1.5,"v":26.3},{"a":0.9933,"b":1.5,"v":26.3},{"a":0.9918,"b":1.5,"v":26.29},{"a":0.9903,"b":1.5,"v":26.28},{"a":0.9888,"b":1.5,"v":26.28},{"a":0.9873,"b":1.5,"v":26.26},{"a":0.9858,"b":1.5,"v":26.24},{"a":0.9843,"b":1.5,"v":26.23},{"a":0.9828,"b":1.5,"v":26.23},{"a":0.9813,"b":1.5,"v":26.24},{"a":0.9798,"b":1.5,"v":26.26},{"a":0.9783,"b":1.5,"v":26.3},{"a":0.9768,"b":1.5,"v":26.35},{"a":0.9753,"b":1.5,"v":26.4},{"a":0.9738,"b":1.5,"v":26.45},{"a":0.9723,"b":1.5,"v":26.5},
{"a":0.9993,"b":0.5,"v":26.35},{"a":0.9978,"b":0.5,"v":26.33},{"a":0.9963,"b":0.5,"v":26.33},{"a":0.9948,"b":0.5,"v":26.32},{"a":0.9933,"b":0.5,"v":26.32},{"a":0.9918,"b":0.5,"v":26.3},{"a":0.9903,"b":0.5,"v":26.29},{"a":0.9888,"b":0.5,"v":26.28},{"a":0.9873,"b":0.5,"v":26.27},{"a":0.9858,"b":0.5,"v":26.27},{"a":0.9843,"b":0.5,"v":26.26},{"a":0.9828,"b":0.5,"v":26.25}
]},"mark":{"type":"rect","width":24,"height":22,"clip":true},"encoding":{"color":{"field":"v","type":"quantitative","scale":{"domain":[25.82,25.92,25.99,26.03,26.08,26.14,26.2,26.25,26.3,26.35,26.4,26.45,26.5,26.58,26.65,26.72,26.8,26.87,26.95,27.0,27.06,27.15,27.22,27.3,27.37,27.43,27.5,27.56,27.62,27.67,27.71,27.74],"range":["#eac4ec","#d048c0","#b8a0c0","#9c98d0","#7070e0","#3838ff","#2048f0","#2878e8","#48b0f5","#68dcf5","#7cf0e0","#60dca8","#30b878","#10d048","#00e830","#38d030","#68c050","#a8e058","#d0ee50","#f0dc38","#fcc428","#fca810","#f08c00","#c86408","#e04000","#ff0808","#d00020","#d82038","#e04050","#f07860","#ffa078","#ffc090"]},"legend":{"orient":"none","legendX":972.5,"legendY":3,"title":null,"gradientLength":858,"gradientThickness":28,"gradientStrokeColor":"#777","values":[26,26.25,26.5,26.75,27,27.25,27.5],"labelFont":"Liberation Sans","labelFontWeight":"bold","labelFontStyle":"italic","labelFontSize":22,"labelColor":"black","labelOffset":6,"labelOverlap":false,"format":".2~f"}}}},
{"data":{"values":[{"a":0.93786,"b":39.85,"b2":39.85},{"a":0.93696,"b":40.42,"b2":39.85},{"a":0.93607,"b":39.85,"b2":39.85}]},"mark":{"type":"area","color":"#ffc890","stroke":"#777","strokeWidth":1,"clip":false},"encoding":{"y2":{"field":"b2"}}},
{"data":{"values":[{"a":0.991,"b":18.56},{"a":0.979,"b":16.57},{"a":0.972,"b":18.8},{"a":0.97,"b":19.27},{"a":0.971,"b":20.47},{"a":0.972,"b":16.77},{"a":0.977,"b":15.16},{"a":0.974,"b":14.88},{"a":0.975,"b":14.38},{"a":0.983,"b":14.08},{"a":0.981,"b":13.88},{"a":0.978,"b":13.36},{"a":0.989,"b":12.88},{"a":0.99,"b":12.58},{"a":0.979,"b":11.08},{"a":0.978,"b":10.99},{"a":0.986,"b":9.54},{"a":0.978,"b":9.44},{"a":0.977,"b":8.96},{"a":0.989,"b":8.87},{"a":0.988,"b":8.76},{"a":0.99,"b":8.17},{"a":0.995,"b":8.07},{"a":0.993,"b":7.67},{"a":0.987,"b":7.76},{"a":0.979,"b":7.48},{"a":0.977,"b":7.48},{"a":0.984,"b":6.78},{"a":0.993,"b":6.78},{"a":0.989,"b":6.46},{"a":0.977,"b":6.46},{"a":0.994,"b":5.68},{"a":0.983,"b":5.68},{"a":0.973,"b":5.29},{"a":0.994,"b":4.39},{"a":0.989,"b":4.68},{"a":0.995,"b":2.29},{"a":0.977,"b":33.27},{"a":0.977,"b":33.03},{"a":0.97,"b":32.97},{"a":0.977,"b":31.27},{"a":0.971,"b":29.85},{"a":0.97,"b":28.0},{"a":0.97,"b":27.8},{"a":0.979,"b":24.87},{"a":0.971,"b":24.37},{"a":0.991,"b":24.17},{"a":0.974,"b":22.28},{"a":0.975,"b":21.09},{"a":0.969,"b":39.05},{"a":0.957,"b":37.45},{"a":0.958,"b":36.05},{"a":0.956,"b":36.05},{"a":0.944,"b":35.97},{"a":0.954,"b":33.91},{"a":0.96,"b":33.27},{"a":0.949,"b":33.4},{"a":0.959,"b":32.68},{"a":0.958,"b":32.77},{"a":0.945,"b":31.79},{"a":0.964,"b":31.79},{"a":0.959,"b":31.27},{"a":0.952,"b":31.47},{"a":0.956,"b":30.88},{"a":0.952,"b":30.8},{"a":0.965,"b":30.47},{"a":0.959,"b":30.16},{"a":0.954,"b":30.07},{"a":0.942,"b":29.97},{"a":0.963,"b":29.05},{"a":0.96,"b":28.85},{"a":0.96,"b":28.16},{"a":0.955,"b":28.26},{"a":0.962,"b":26.56},{"a":0.961,"b":26.37},{"a":0.948,"b":26.17},{"a":0.942,"b":26.37},{"a":0.969,"b":26.76},{"a":0.966,"b":25.98},{"a":0.964,"b":25.98},{"a":0.957,"b":22.67},{"a":0.964,"b":22.98},{"a":0.968,"b":22.31},{"a":0.955,"b":21.48},{"a":0.965,"b":24.2},{"a":0.966,"b":18.56},{"a":0.967,"b":17.66},{"a":0.965,"b":17.16},{"a":0.966,"b":14.27}]},"mark":{"type":"point","filled":true,"fill":"black","color":"black","opacity":1,"size":85,"strokeWidth":0,"clip":false}},
{"data":{"values":[{"i":1,"a":0.97525,"b":36.95},{"i":2,"a":0.97133,"b":36.38},{"i":3,"a":0.96742,"b":34.37},{"i":4,"a":0.96428,"b":31.78},{"i":5,"a":0.96193,"b":28.91},{"i":6,"a":0.96099,"b":26.61},{"i":7,"a":0.96154,"b":24.6},{"i":8,"a":0.9635,"b":23.16},{"i":9,"a":0.96702,"b":22.64},{"i":10,"a":0.97055,"b":22.87},{"i":11,"a":0.97407,"b":24.02},{"i":12,"a":0.97721,"b":26.03},{"i":13,"a":0.97995,"b":28.62},{"i":14,"a":0.98167,"b":30.63},{"i":15,"a":0.98214,"b":32.36},{"i":16,"a":0.98136,"b":34.66},{"i":17,"a":0.97916,"b":36.21}]},"mark":{"type":"line","interpolate":"cardinal-closed","color":"#ff0000","strokeWidth":5,"strokeDash":[44,13],"clip":false},"encoding":{"order":{"field":"i"}}},
{"data":{"values":[{"i":1,"a":0.96702,"b":18.1},{"i":2,"a":0.96217,"b":16.67},{"i":3,"a":0.96021,"b":13.33},{"i":4,"a":0.96217,"b":9.94},{"i":5,"a":0.96702,"b":8.56},{"i":6,"a":0.97188,"b":9.94},{"i":7,"a":0.97384,"b":13.33},{"i":8,"a":0.97188,"b":16.67}]},"mark":{"type":"line","interpolate":"cardinal-closed","color":"#ff0000","strokeWidth":5,"strokeDash":[22,11],"clip":false},"encoding":{"order":{"field":"i"}}},
{"data":{"values":[{"i":1,"a":0.94619,"b":32.93},{"i":2,"a":0.94094,"b":31.26},{"i":3,"a":0.93875,"b":27.18},{"i":4,"a":0.94094,"b":23.1},{"i":5,"a":0.94619,"b":21.44},{"i":6,"a":0.95144,"b":23.1},{"i":7,"a":0.95363,"b":27.18},{"i":8,"a":0.95144,"b":31.26}]},"mark":{"type":"line","interpolate":"cardinal-closed","color":"#00c8ff","strokeWidth":7,"strokeDash":[44,28,9,28],"clip":false},"encoding":{"order":{"field":"i"}}},
{"data":{"values":[{"i":1,"a":0.9559,"b":40.17},{"i":2,"a":0.9494,"b":38.5},{"i":3,"a":0.94666,"b":34.43},{"i":4,"a":0.9494,"b":30.34},{"i":5,"a":0.9559,"b":28.62},{"i":6,"a":0.9624,"b":30.34},{"i":7,"a":0.96514,"b":34.43},{"i":8,"a":0.9624,"b":38.5}]},"mark":{"type":"line","interpolate":"cardinal-closed","color":"white","strokeWidth":5,"strokeDash":[20,12],"clip":false},"encoding":{"order":{"field":"i"}}},
{"data":{"values":[{"i":1,"a":0.98935,"b":15.4},{"i":2,"a":0.98856,"b":16.55},{"i":3,"a":0.98582,"b":18.39},{"i":4,"a":0.98073,"b":20.29},{"i":5,"a":0.97603,"b":22.01},{"i":6,"a":0.97133,"b":23.16},{"i":7,"a":0.96585,"b":24.02},{"i":8,"a":0.96037,"b":24.71},{"i":9,"a":0.95488,"b":24.88},{"i":10,"a":0.95136,"b":24.31},{"i":11,"a":0.95034,"b":22.87},{"i":12,"a":0.95136,"b":20.86},{"i":13,"a":0.95567,"b":18.85},{"i":14,"a":0.96037,"b":16.84},{"i":15,"a":0.96585,"b":14.83},{"i":16,"a":0.97133,"b":13.68},{"i":17,"a":0.97681,"b":12.99},{"i":18,"a":0.9823,"b":12.53},{"i":19,"a":0.98621,"b":12.82},{"i":20,"a":0.98856,"b":13.97}]},"mark":{"type":"line","interpolate":"cardinal-closed","color":"black","strokeWidth":6,"strokeDash":[27,23,7,23],"clip":false},"encoding":{"order":{"field":"i"}}},
{"data":{"values":[{"i":1,"a":1.00099,"b":0.375},{"i":2,"a":0.94029,"b":39.77}]},"mark":{"type":"line","color":"black","strokeWidth":14,"strokeDash":[54,39.5],"clip":false},"encoding":{"order":{"field":"i"}}},
{"data":{"values":[{"a":0.94265,"b":39.39,"b2":39.39},{"a":0.94099,"b":39.75,"b2":38.08},{"a":0.94003,"b":39.95,"b2":39.95}]},"mark":{"type":"area","color":"black","clip":false},"encoding":{"y2":{"field":"b2"}}},
{"data":{"values":[{"i":1,"a":0.95444,"b":37.14},{"i":2,"a":0.95444,"b":30.07}]},"mark":{"type":"line","color":"white","strokeWidth":5},"encoding":{"order":{"field":"i"}}},
{"data":{"values":[{"i":1,"a":0.95927,"b":33.75},{"i":2,"a":0.94955,"b":33.75}]},"mark":{"type":"line","color":"white","strokeWidth":5},"encoding":{"order":{"field":"i"}}},
{"data":{"values":[{"i":1,"a":0.99211,"b":39.3},{"i":2,"a":0.99211,"b":32.22}]},"mark":{"type":"line","color":"black","strokeWidth":5.5},"encoding":{"order":{"field":"i"}}},
{"data":{"values":[{"i":1,"a":0.99696,"b":35.78},{"i":2,"a":0.98725,"b":35.78}]},"mark":{"type":"line","color":"black","strokeWidth":5.5},"encoding":{"order":{"field":"i"}}},
{"data":{"values":[{"a":1.02425,"b":39.54,"t":"High"},{"a":1.02994,"b":35.88,"t":"wind velocity"},{"a":0.93486,"b":40.05,"t":"27.75"}]},"mark":{"type":"text","font":"Liberation Sans","fontSize":64,"color":"#ff0000","align":"left","baseline":"alphabetic"},"encoding":{"text":{"field":"t"}}},
{"data":{"values":[{"a":1.00738,"b":38.88,"t":"40"},{"a":1.00725,"b":18.92,"t":"20"},{"a":1.00623,"b":-0.19,"t":"0"},{"a":1.00521,"b":-4.4,"t":"1.00"},{"a":0.9454,"b":-3.51,"t":"0.94"}]},"mark":{"type":"text","font":"Liberation Sans","fontSize":64,"color":"black","align":"left","baseline":"alphabetic"},"encoding":{"text":{"field":"t"}}},
{"data":{"values":[{"a":0.95607,"b":40.89,"t":"1500~2500m"},{"a":1.02565,"b":1.87,"t":"Low"},{"a":1.02565,"b":-0.8,"t":"wind velocity"},{"a":1.00925,"b":-7.96,"t":"High Pressure"},{"a":1.00925,"b":-10.65,"t":"and/or long stay"},{"a":0.96482,"b":6.85,"t":"A7_2000,2500m"}]},"mark":{"type":"text","font":"Liberation Sans","fontSize":48,"color":"black","align":"left","baseline":"alphabetic"},"encoding":{"text":{"field":"t"}}},
{"data":{"values":[{"a":0.93498,"b":-0.84,"t":"25.75"}]},"mark":{"type":"text","font":"Liberation Sans","fontSize":64.5,"color":"#c8009c","align":"left","baseline":"alphabetic"},"encoding":{"text":{"field":"t"}}},
{"data":{"values":[{"a":0.97385,"b":-6.09,"t":"A"}]},"mark":{"type":"text","font":"Liberation Sans","fontSize":105,"fontStyle":"italic","color":"#3333a0","align":"left","baseline":"alphabetic"},"encoding":{"text":{"field":"t"}}},
{"data":{"values":[{"a":0.95417,"b":-8.57,"t":"Low Pressure"}]},"mark":{"type":"text","font":"Liberation Sans","fontSize":64,"color":"#3333a0","align":"left","baseline":"alphabetic"},"encoding":{"text":{"field":"t"}}},
{"data":{"values":[{"a":0.95417,"b":-11.48,"t":"and/or short stay, ice cover etc…"}]},"mark":{"type":"text","font":"Liberation Sans","fontSize":48.2,"color":"#3333a0","align":"left","baseline":"alphabetic"},"encoding":{"text":{"field":"t"}}},
{"data":{"values":[{"a":1.01006,"b":12.22,"t":"B"}]},"mark":{"type":"text","font":"Liberation Sans","fontSize":115,"fontStyle":"italic","color":"#ff0000","angle":270,"align":"center","baseline":"alphabetic"},"encoding":{"text":{"field":"t"}}},
{"data":{"values":[{"a":1.01019,"b":21.26,"t":"(μmol/kg)"}]},"mark":{"type":"text","font":"Liberation Sans","fontSize":65,"fontStyle":"italic","color":"#ff0000","angle":270,"align":"center","baseline":"alphabetic"},"encoding":{"text":{"field":"t"}}},
{"data":{"values":[{"a":0.93856,"b":3.14,"t":"Ocean Data View"}]},"mark":{"type":"text","font":"Liberation Sans","fontSize":16,"fontWeight":"bold","fontStyle":"italic","color":"black","angle":270,"align":"center","baseline":"alphabetic"},"encoding":{"text":{"field":"t"}}}
]}
